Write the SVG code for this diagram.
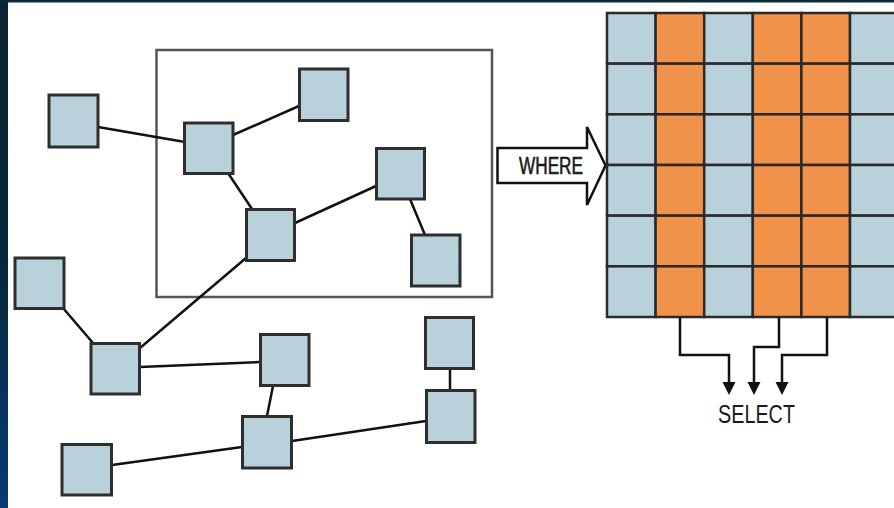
<svg xmlns="http://www.w3.org/2000/svg" width="894" height="508" viewBox="0 0 894 508">
<defs>
<linearGradient id="bg" x1="0" y1="0" x2="0" y2="1">
<stop offset="0" stop-color="#0b2433"/>
<stop offset="0.5" stop-color="#06283a"/>
<stop offset="1" stop-color="#063a74"/>
</linearGradient>
<style>
.node{fill:#b8d1da;stroke:#2e2e2e;stroke-width:3}
.edge{stroke:#111;stroke-width:2.5;fill:none;stroke-linecap:round}
.b{fill:#b8d1da;stroke:#2a2a2a;stroke-width:2.5}
.o{fill:#f0924a;stroke:#2a2a2a;stroke-width:2.5}
.sel{stroke:#111;stroke-width:2.5;fill:none}
.head{fill:#111}
.lbl{font-family:"Liberation Sans",Arial,sans-serif;fill:#1a1a1a}
</style>
</defs>
<rect x="0" y="0" width="894" height="508" fill="#ffffff"/>
<rect x="0" y="0" width="8" height="508" fill="url(#bg)"/>
<rect x="0" y="0" width="894" height="2.5" fill="#0b2a3a"/>

<g id="frame"><rect x="156.5" y="50" width="335.5" height="247" fill="none" stroke="#555" stroke-width="2.5"/></g>

<g id="connectors">
<line class="edge" x1="98" y1="127" x2="185" y2="142"/>
<line class="edge" x1="233" y1="135" x2="299" y2="106"/>
<line class="edge" x1="228" y1="173" x2="252" y2="209"/>
<line class="edge" x1="295" y1="223" x2="376" y2="186"/>
<line class="edge" x1="410" y1="199" x2="425" y2="235"/>
<line class="edge" x1="246" y1="258" x2="140" y2="348"/>
<line class="edge" x1="63" y1="308" x2="93" y2="343"/>
<line class="edge" x1="140" y1="367" x2="260" y2="362"/>
<line class="edge" x1="273" y1="386" x2="267" y2="416"/>
<line class="edge" x1="112" y1="465" x2="242" y2="447"/>
<line class="edge" x1="292" y1="441" x2="426" y2="421"/>
<line class="edge" x1="450" y1="369" x2="450" y2="390"/>
</g>

<g id="n1"><rect class="node" x="49" y="95" width="49" height="52"/></g>
<g id="n2"><rect class="node" x="184.5" y="123" width="48.5" height="50.5"/></g>
<g id="n3"><rect class="node" x="299.5" y="69" width="48.5" height="51.5"/></g>
<g id="n4"><rect class="node" x="376.5" y="148.5" width="48" height="50.5"/></g>
<g id="n5"><rect class="node" x="246.5" y="209.5" width="48" height="51"/></g>
<g id="n6"><rect class="node" x="411.5" y="235" width="48.5" height="51"/></g>
<g id="n7"><rect class="node" x="15" y="258" width="49" height="50.5"/></g>
<g id="n8"><rect class="node" x="91" y="343.5" width="48.5" height="50.5"/></g>
<g id="n9"><rect class="node" x="260.5" y="334.5" width="48.5" height="51"/></g>
<g id="n10"><rect class="node" x="425.5" y="317.5" width="48" height="51"/></g>
<g id="n11"><rect class="node" x="426.5" y="390.5" width="48.5" height="52"/></g>
<g id="n12"><rect class="node" x="242.5" y="416.5" width="49" height="51.5"/></g>
<g id="n13"><rect class="node" x="62" y="444.5" width="49.5" height="50.5"/></g>

<g id="where">
<polygon points="497.5,148 587,148 587,127 605.5,165.5 587,205 587,183 497.5,183" fill="#fff" stroke="#111" stroke-width="2.5" stroke-linejoin="miter"/>
<text class="lbl" x="519" y="174" font-size="23" textLength="64" lengthAdjust="spacingAndGlyphs" stroke="#1a1a1a" stroke-width="0.6">WHERE</text>
</g>

<g id="table">
<rect class="b" x="607" y="13" width="48.6" height="50.67"/>
<rect class="o" x="655.6" y="13" width="48.6" height="50.67"/>
<rect class="b" x="704.2" y="13" width="48.6" height="50.67"/>
<rect class="o" x="752.8" y="13" width="48.6" height="50.67"/>
<rect class="o" x="801.4" y="13" width="48.6" height="50.67"/>
<rect class="b" x="850" y="13" width="48.6" height="50.67"/>

<rect class="b" x="607" y="63.67" width="48.6" height="50.67"/>
<rect class="o" x="655.6" y="63.67" width="48.6" height="50.67"/>
<rect class="b" x="704.2" y="63.67" width="48.6" height="50.67"/>
<rect class="o" x="752.8" y="63.67" width="48.6" height="50.67"/>
<rect class="o" x="801.4" y="63.67" width="48.6" height="50.67"/>
<rect class="b" x="850" y="63.67" width="48.6" height="50.67"/>

<rect class="b" x="607" y="114.33" width="48.6" height="50.67"/>
<rect class="o" x="655.6" y="114.33" width="48.6" height="50.67"/>
<rect class="b" x="704.2" y="114.33" width="48.6" height="50.67"/>
<rect class="o" x="752.8" y="114.33" width="48.6" height="50.67"/>
<rect class="o" x="801.4" y="114.33" width="48.6" height="50.67"/>
<rect class="b" x="850" y="114.33" width="48.6" height="50.67"/>

<rect class="b" x="607" y="165" width="48.6" height="50.67"/>
<rect class="o" x="655.6" y="165" width="48.6" height="50.67"/>
<rect class="b" x="704.2" y="165" width="48.6" height="50.67"/>
<rect class="o" x="752.8" y="165" width="48.6" height="50.67"/>
<rect class="o" x="801.4" y="165" width="48.6" height="50.67"/>
<rect class="b" x="850" y="165" width="48.6" height="50.67"/>

<rect class="b" x="607" y="215.67" width="48.6" height="50.67"/>
<rect class="o" x="655.6" y="215.67" width="48.6" height="50.67"/>
<rect class="b" x="704.2" y="215.67" width="48.6" height="50.67"/>
<rect class="o" x="752.8" y="215.67" width="48.6" height="50.67"/>
<rect class="o" x="801.4" y="215.67" width="48.6" height="50.67"/>
<rect class="b" x="850" y="215.67" width="48.6" height="50.67"/>

<rect class="b" x="607" y="266.33" width="48.6" height="50.67"/>
<rect class="o" x="655.6" y="266.33" width="48.6" height="50.67"/>
<rect class="b" x="704.2" y="266.33" width="48.6" height="50.67"/>
<rect class="o" x="752.8" y="266.33" width="48.6" height="50.67"/>
<rect class="o" x="801.4" y="266.33" width="48.6" height="50.67"/>
<rect class="b" x="850" y="266.33" width="48.6" height="50.67"/>
</g>

<g id="select">
<polyline class="sel" points="680,317 680,355 729,355 729,384"/>
<polyline class="sel" points="779,317 779,347 754,347 754,384"/>
<polyline class="sel" points="827,317 827,355 782,355 782,384"/>
<polygon class="head" points="722.5,382 735.5,382 729,395"/>
<polygon class="head" points="747.5,382 760.5,382 754,395"/>
<polygon class="head" points="775.5,382 788.5,382 782,395"/>
<text class="lbl" x="718" y="423" font-size="26" textLength="77" lengthAdjust="spacingAndGlyphs">SELECT</text>
</g>
</svg>
